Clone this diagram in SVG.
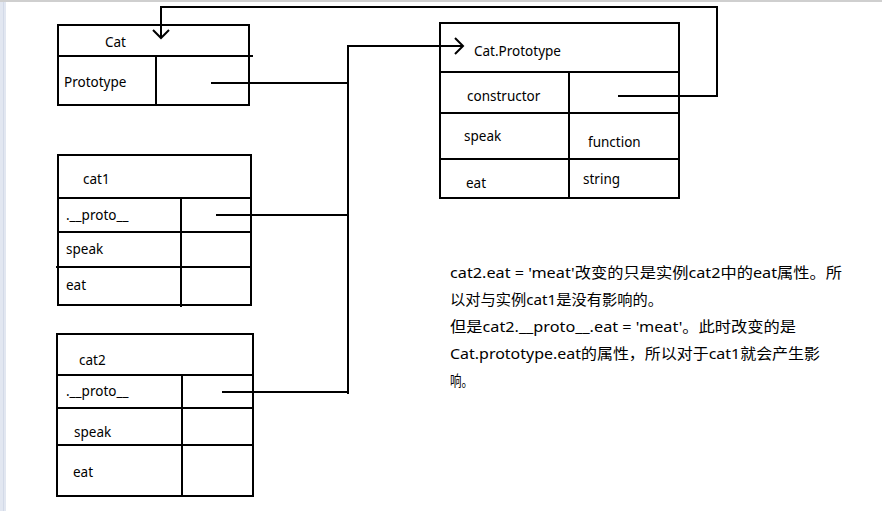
<svg xmlns="http://www.w3.org/2000/svg" width="882" height="511" viewBox="0 0 882 511">
<style>
.b{fill:none;stroke:#000;stroke-width:2}
.c{fill:none;stroke:#000;stroke-width:2;stroke-linejoin:miter}
.t{font-family:"Noto Sans","Open Sans",sans-serif;font-size:13.5px;fill:#000}
.p{font-family:"Noto Sans","Noto Sans CJK SC",sans-serif;font-size:15px;fill:#000}
</style>
<rect x="0" y="0" width="882" height="511" fill="#fff"/>
<rect x="0" y="0" width="6" height="511" fill="#e2e7f1"/>
<rect x="3" y="0" width="1" height="511" fill="#d3dae8"/>
<rect x="0" y="0" width="882" height="2" fill="#cfcfcf"/>

<g id="Cat">
<rect class="b" x="58" y="25" width="191" height="80"/>
<path class="b" d="M58,56H253M156,56V105"/>
<text class="t" x="105" y="47">Cat</text>
<text class="t" x="64" y="87">Prototype</text>
</g>

<g id="CatPrototype">
<rect class="b" x="440" y="23" width="239" height="175"/>
<path class="b" d="M440,72H679M440,113H679M440,159H679M569,72V198"/>
<text class="t" x="474" y="56">Cat.Prototype</text>
<text class="t" x="467" y="101">constructor</text>
<text class="t" x="464" y="141">speak</text>
<text class="t" x="588" y="147">function</text>
<text class="t" x="466" y="188">eat</text>
<text class="t" x="583" y="184">string</text>
</g>

<g id="cat1">
<rect class="b" x="58" y="155" width="193" height="150"/>
<path class="b" d="M58,198H251M58,232H251M56,267H251M181,198V307"/>
<text class="t" x="83" y="184">cat1</text>
<text class="t" x="66" y="220">.__proto__</text>
<text class="t" x="66" y="254">speak</text>
<text class="t" x="66" y="290">eat</text>
</g>

<g id="cat2">
<rect class="b" x="57" y="334" width="196" height="162"/>
<path class="b" d="M57,375H253M57,408H253M57,445H253M182,375V497"/>
<text class="t" x="79" y="365">cat2</text>
<text class="t" x="66" y="396">.__proto__</text>
<text class="t" x="74" y="437">speak</text>
<text class="t" x="73" y="477">eat</text>
</g>

<g id="connectors">
<path class="c" d="M211,83H348"/>
<path class="c" d="M216,215H348"/>
<path class="c" d="M222,392H348"/>
<path class="c" d="M348,394V46H463"/>
<polyline class="c" points="455,38 463,46 455,54"/>
<path class="c" d="M618,96H717V7H161V38"/>
<polyline class="c" points="153,30 161,38 169,30"/>
</g>

<g id="note">
<text class="p" x="450" y="278" textLength="392" lengthAdjust="spacingAndGlyphs">cat2.eat = 'meat'改变的只是实例cat2中的eat属性。所</text>
<text class="p" x="450" y="305" textLength="213" lengthAdjust="spacingAndGlyphs">以对与实例cat1是没有影响的。</text>
<text class="p" x="450" y="332" textLength="346" lengthAdjust="spacingAndGlyphs">但是cat2.__proto__.eat = 'meat'。此时改变的是</text>
<text class="p" x="450" y="359" textLength="370" lengthAdjust="spacingAndGlyphs">Cat.prototype.eat的属性，所以对于cat1就会产生影</text>
<text class="p" x="450" y="386" textLength="23" lengthAdjust="spacingAndGlyphs">响。</text>
</g>
</svg>
